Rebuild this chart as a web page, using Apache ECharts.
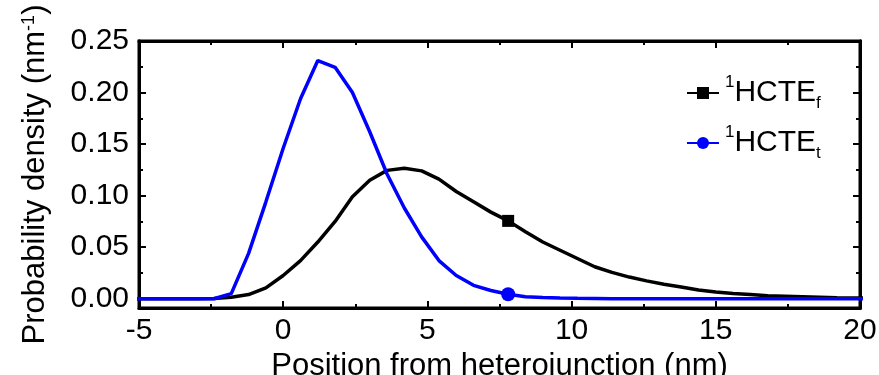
<!DOCTYPE html>
<html>
<head>
<meta charset="utf-8">
<script src="https://cdn.jsdelivr.net/npm/echarts@6/dist/echarts.min.js"></script>
<style>html,body{margin:0;padding:0;background:#fff;overflow:hidden}#c{width:879px;height:375px}</style>
</head>
<body>
<div id="c"></div>
<script>
// Positions (nm)
var positions = [-5.4,-4.8,-4.2,-3.6,-3.0,-2.4,-1.8,-1.2,-0.6,0,0.6,1.2,1.8,2.4,3.0,3.6,4.2,4.8,5.4,6.0,6.6,7.2,7.8,8.4,9.0,9.6,10.2,10.8,11.4,12.0,12.6,13.2,13.8,14.4,15.0,15.6,16.2,16.8,17.4,18.0,18.6,19.2,19.8,20.4];
// 1HCTE_f probability density (nm^-1)
var hcteF = [0,0,0,0,0,0.0003,0.0015,0.004,0.0105,0.0225,0.037,0.055,0.075,0.099,0.115,0.1245,0.1265,0.124,0.116,0.104,0.094,0.084,0.0755,0.065,0.055,0.047,0.039,0.031,0.0255,0.021,0.0173,0.014,0.0113,0.0085,0.0065,0.005,0.004,0.003,0.0025,0.002,0.0015,0.001,0.0008,0.0005];
// 1HCTE_t probability density (nm^-1)
var hcteT = [0,0,0,0,0,0,0.005,0.044,0.094,0.146,0.194,0.231,0.2245,0.200,0.162,0.121,0.088,0.060,0.037,0.0225,0.013,0.008,0.0044,0.002,0.0012,0.0008,0.0005,0.0003,0,0,0,0,0,0,0,0,0,0,0,0,0,0,0,0];
var markerIndex = 22;
var seriesNames = ['{sup|1}HCTE{sub|f}', '{sup|1}HCTE{sub|t}'];
var yMajorTicks = [0, 0.05, 0.10, 0.15, 0.20, 0.25];
var yMinorTicks = [0.025, 0.075, 0.125, 0.175, 0.225];
var xMin = -5, xMax = 20, xStep = 5;
var yMin = -0.009, yMax = 0.25;

function pairs(ys){ return positions.map(function(x,i){ return [x, ys[i]]; }); }

var FONT = "'Liberation Sans', Arial, sans-serif";
var chart = echarts.init(document.getElementById('c'), null, {renderer:'canvas'});

function yAxisDef(pos, ticks, len, showLabel) {
  return {
    type:'value', position:pos, min:yMin, max:yMax,
    axisLine:{show:true, onZero:false, lineStyle:{color:'#000', width:3}},
    axisTick:{show:true, inside:true, length:len, customValues:ticks, lineStyle:{color:'#000', width:2}},
    axisLabel:{show:showLabel, customValues:ticks, margin:10, fontSize:30, fontFamily:FONT, color:'#000',
      formatter:function(v){ return v.toFixed(2); }},
    splitLine:{show:false}
  };
}

var yAxes = [
  yAxisDef('left', yMajorTicks, 7, true),
  yAxisDef('left', yMinorTicks, 4, false),
  yAxisDef('right', yMajorTicks, 7, false),
  yAxisDef('right', yMinorTicks, 4, false)
];
yAxes[0].name = 'Probability density (nm{sup|-1})';
yAxes[0].nameLocation = 'middle';
yAxes[0].nameGap = 88;
yAxes[0].nameTextStyle = {fontSize:31, fontFamily:FONT, color:'#000',
  rich:{sup:{fontSize:18, fontFamily:FONT, color:'#000', verticalAlign:'top', lineHeight:18}}};

function xAxisDef(pos, showLabel) {
  return {
    type:'value', position:pos, min:xMin, max:xMax, interval:xStep,
    axisLine:{show:true, onZero:false, lineStyle:{color:'#000', width:3}},
    axisTick:{show:true, inside:true, length:7, lineStyle:{color:'#000', width:2}},
    minorTick:{show:true, splitNumber:2, length:4, lineStyle:{color:'#000', width:2}},
    axisLabel:{show:showLabel, margin:8, fontSize:30, fontFamily:FONT, color:'#000'},
    splitLine:{show:false}, minorSplitLine:{show:false}
  };
}
var xAxes = [xAxisDef('bottom', true), xAxisDef('top', false)];
xAxes[0].name = 'Position from heterojunction (nm)';
xAxes[0].nameLocation = 'middle';
xAxes[0].nameGap = 29;
xAxes[0].nameTextStyle = {fontSize:31, fontFamily:FONT, color:'#000'};

var richLegend = {
  sup:{fontSize:17, fontFamily:FONT, color:'#000', verticalAlign:'top', lineHeight:16, padding:[0,0,0,1]},
  sub:{fontSize:17, fontFamily:FONT, color:'#000', verticalAlign:'bottom', lineHeight:10}
};

var option = {
  animation:false,
  textStyle:{fontFamily:FONT},
  grid:{left:139, right:19, top:41, bottom:67, outerBoundsMode:'none',
        show:true, borderColor:'#000', borderWidth:3, backgroundColor:'transparent'},
  xAxis:xAxes,
  yAxis:yAxes,
  legend:{
    orient:'vertical', left:681, top:69, itemWidth:32, itemHeight:15, itemGap:12,
    textStyle:{fontSize:30, fontFamily:FONT, color:'#000', lineHeight:38, rich:richLegend},
    data:seriesNames
  },
  series:[
    {name:seriesNames[0], type:'line', xAxisIndex:0, yAxisIndex:0, data:pairs(hcteF),
     symbol:'rect', symbolSize:function(v,p){ return p.dataIndex===markerIndex?12:0; },
     lineStyle:{color:'#000', width:3.5}, itemStyle:{color:'#000'}, z:2},
    {name:seriesNames[1], type:'line', xAxisIndex:0, yAxisIndex:0, data:pairs(hcteT),
     symbol:'circle', symbolSize:function(v,p){ return p.dataIndex===markerIndex?14:0; },
     lineStyle:{color:'#0000ff', width:3.5}, itemStyle:{color:'#0000ff'}, z:3}
  ]
};
chart.setOption(option);
</script>
</body>
</html>
